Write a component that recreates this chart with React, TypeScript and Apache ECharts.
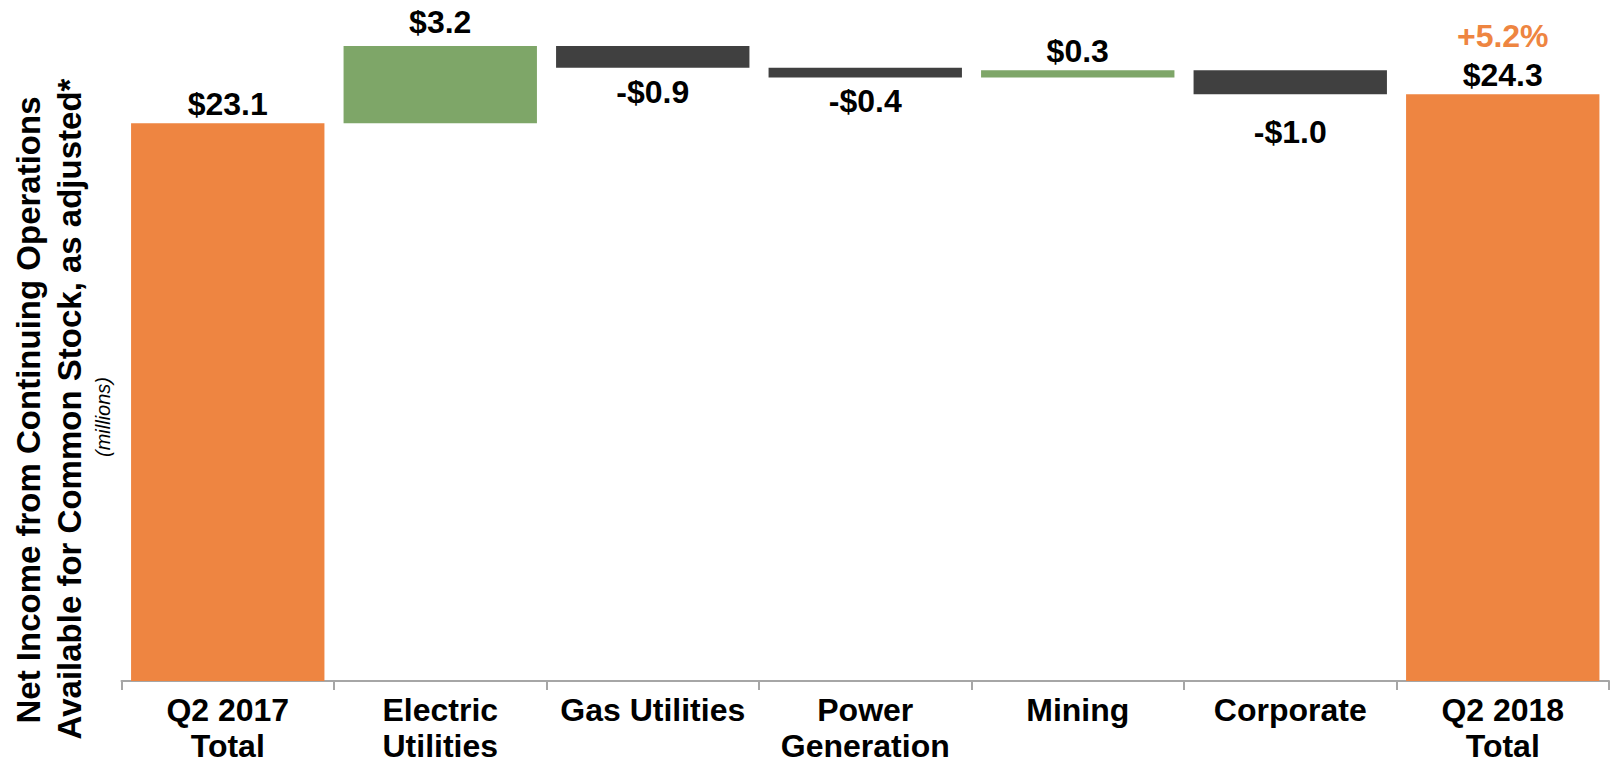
import React, { useEffect, useRef } from "react";
import * as echarts from "echarts";

const categories = [
  "Q2 2017\nTotal",
  "Electric\nUtilities",
  "Gas Utilities",
  "Power\nGeneration",
  "Mining",
  "Corporate",
  "Q2 2018\nTotal",
];
const changes = [23.1, 3.2, -0.9, -0.4, 0.3, -1.0, 24.3];
const isTotal = [true, false, false, false, false, false, true];
const yTitleLine1 = "Net Income from Continuing Operations";
const yTitleLine2 = "Available for Common Stock, as adjusted*";
const yUnit = "(millions)";

const ORANGE = "#EE8541";
const GREEN = "#7EA668";
const DARK = "#404040";
const FONT = '"Liberation Sans", Arial, sans-serif';
const LABEL_SIZE = 32;

export default function App() {
  const ref = useRef<HTMLDivElement>(null);

  useEffect(() => {
    document.body.style.margin = "0";
    if (!ref.current) return;
    const chart = echarts.init(ref.current, undefined, { renderer: "svg" });

    const base: number[] = [];
    const heights: any[] = [];
    let run = 0;
    const first = changes[0];
    const last = changes[changes.length - 1];
    const pct = ((last - first) / first) * 100;
    const pctText = (pct >= 0 ? "+" : "-") + Math.abs(pct).toFixed(1) + "%";

    changes.forEach((v, i) => {
      if (isTotal[i]) {
        base.push(0);
        run = v;
        const isLast = i === changes.length - 1;
        heights.push({
          value: v,
          itemStyle: { color: ORANGE },
          label: isLast
            ? {
                show: true,
                position: "top",
                distance: 2,
                formatter: `{pct|${pctText}}\n{val|$${v.toFixed(1)}}`,
                rich: {
                  pct: {
                    color: ORANGE,
                    fontSize: LABEL_SIZE,
                    fontWeight: "bold",
                    fontFamily: FONT,
                    lineHeight: 45,
                  },
                  val: {
                    color: "#000",
                    fontSize: LABEL_SIZE,
                    fontWeight: "bold",
                    fontFamily: FONT,
                    lineHeight: 34,
                  },
                },
              }
            : {
                show: true,
                position: "top",
                distance: 3,
                formatter: `$${v.toFixed(1)}`,
              },
        });
      } else {
        const start = run;
        const end = run + v;
        base.push(Math.min(start, end));
        run = end;
        const pos = v >= 0;
        const isCorporate = categories[i] === "Corporate";
        heights.push({
          value: Math.abs(v),
          itemStyle: { color: pos ? GREEN : DARK },
          label: {
            show: true,
            position: pos ? "top" : "bottom",
            distance: pos ? (i === 1 ? 8 : 3) : isCorporate ? 22 : 8,
            formatter: pos ? `$${v.toFixed(1)}` : `-$${Math.abs(v).toFixed(1)}`,
          },
        });
      }
    });

    const option: any = {
      animation: false,
      backgroundColor: "#fff",
      grid: { left: 121.5, right: 3, top: 5, bottom: 80.4, containLabel: false },
      xAxis: {
        type: "category",
        data: categories,
        axisLine: { show: true, lineStyle: { color: "#A6A6A6", width: 2 } },
        axisTick: {
          show: true,
          alignWithLabel: false,
          length: 9,
          lineStyle: { color: "#A6A6A6", width: 2 },
        },
        axisLabel: {
          interval: 0,
          color: "#000",
          fontSize: LABEL_SIZE,
          fontWeight: "bold",
          fontFamily: FONT,
          lineHeight: 36,
          margin: 11,
        },
      },
      yAxis: {
        type: "value",
        min: 0,
        max: 28,
        show: false,
        splitLine: { show: false },
      },
      series: [
        {
          type: "bar",
          stack: "wf",
          data: base,
          itemStyle: { color: "transparent" },
          emphasis: { disabled: true },
          barCategoryGap: "9%",
          silent: true,
        },
        {
          type: "bar",
          stack: "wf",
          data: heights,
          barCategoryGap: "9%",
          label: {
            color: "#000",
            fontSize: LABEL_SIZE,
            fontWeight: "bold",
            fontFamily: FONT,
          },
        },
      ],
      graphic: [
        {
          type: "text",
          x: 28,
          y: 410,
          rotation: Math.PI / 2,
          style: {
            text: yTitleLine1,
            fontSize: 33,
            fontWeight: "bold",
            fontFamily: FONT,
            fill: "#000",
            align: "center",
            verticalAlign: "middle",
          },
        },
        {
          type: "text",
          x: 69,
          y: 409,
          rotation: Math.PI / 2,
          style: {
            text: yTitleLine2,
            fontSize: 33,
            fontWeight: "bold",
            fontFamily: FONT,
            fill: "#000",
            align: "center",
            verticalAlign: "middle",
          },
        },
        {
          type: "text",
          x: 103,
          y: 417,
          rotation: Math.PI / 2,
          style: {
            text: yUnit,
            fontSize: 20,
            fontStyle: "italic",
            fontFamily: FONT,
            fill: "#000",
            align: "center",
            verticalAlign: "middle",
          },
        },
      ],
    };

    chart.setOption(option);
    return () => chart.dispose();
  }, []);

  return <div ref={ref} style={{ width: 1612, height: 764 }} />;
}
